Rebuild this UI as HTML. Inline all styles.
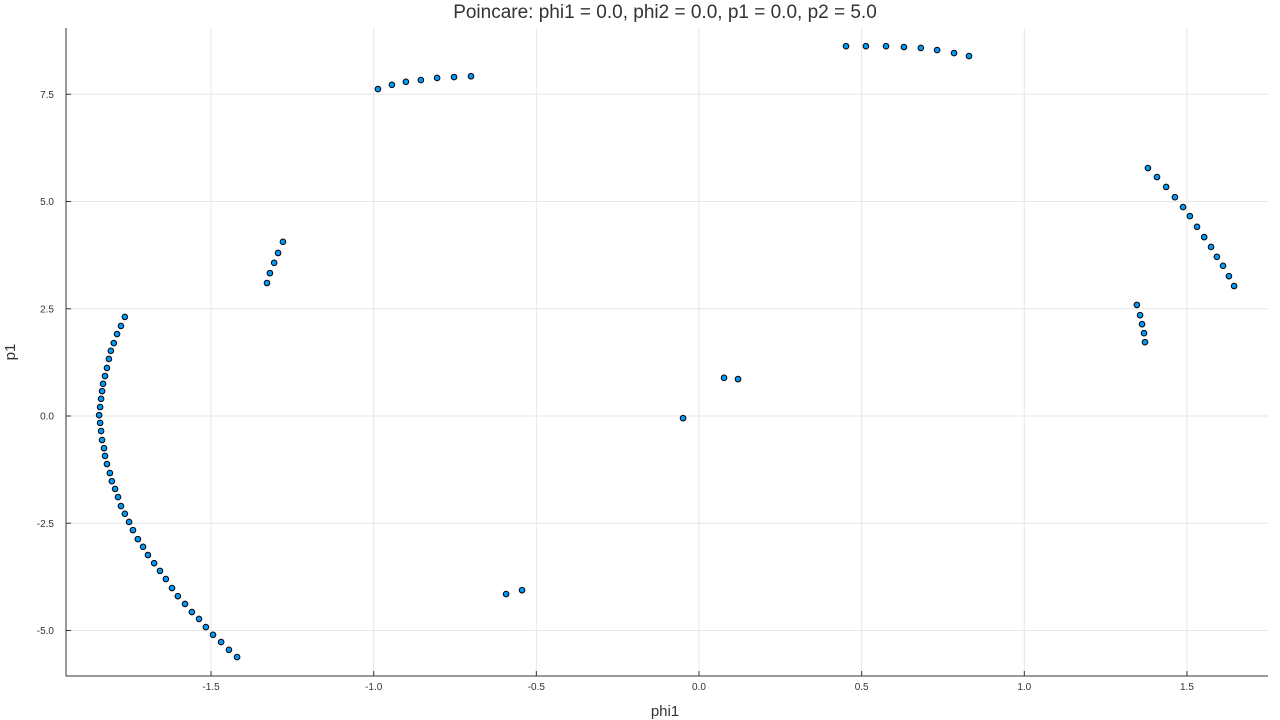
<!DOCTYPE html>
<html><head><meta charset="utf-8"><style>
body{margin:0;background:#fff;}
svg{display:block;font-family:"Liberation Sans",sans-serif;}
</style></head><body>
<svg id="chart" width="1280" height="720">
<text x="665" y="18" text-anchor="middle" font-size="19" fill="#333">Poincare: phi1 = 0.0, phi2 = 0.0, p1 = 0.0, p2 = 5.0</text>
<g id="grid"></g>
<g id="axes"></g>
<g id="points"></g>
<text x="665" y="716" text-anchor="middle" font-size="15" fill="#333">phi1</text>
<text x="15" y="352" text-anchor="middle" font-size="15" fill="#333" transform="rotate(-90 15 352)">p1</text>
</svg>
<script>
const xTicks=[-1.5,-1.0,-0.5,0.0,0.5,1.0,1.5];
const xTickLabels=["-1.5","-1.0","-0.5","0.0","0.5","1.0","1.5"];
const yTicks=[0.75,0.5,0.25,0,-0.25,-0.5];
const yTickLabels=["7.5","5.0","2.5","0.0","-2.5","-5.0"];
const phi1=[-1.765,-1.777,-1.789,-1.799,-1.808,-1.814,-1.820,-1.826,-1.832,-1.835,-1.838,-1.841,
-1.844,-1.841,-1.838,-1.835,-1.829,-1.826,-1.820,-1.811,-1.805,-1.795,-1.786,-1.777,-1.765,-1.752,-1.740,-1.725,-1.709,-1.694,-1.675,-1.657,-1.639,-1.620,-1.602,-1.580,-1.559,-1.537,-1.516,-1.494,-1.469,-1.445,-1.420,
-0.987,-0.944,-0.901,-0.855,-0.805,-0.753,-0.701,
0.452,0.513,0.575,0.630,0.682,0.732,0.784,0.830,
-1.328,-1.319,-1.306,-1.294,-1.279,
-0.049,0.077,0.120,-0.593,-0.544,
1.380,1.408,1.436,1.463,1.488,1.509,1.531,1.553,1.574,1.592,1.611,1.629,1.645,
1.346,1.356,1.362,1.368,1.371];
const p1=[0.231,0.210,0.191,0.170,0.152,0.133,0.112,0.093,0.075,0.058,0.040,0.021,
0.002,-0.016,-0.035,-0.056,-0.075,-0.093,-0.112,-0.133,-0.152,-0.170,-0.189,-0.210,-0.228,-0.247,-0.266,-0.287,-0.305,-0.324,-0.343,-0.361,-0.380,-0.401,-0.420,-0.438,-0.457,-0.473,-0.492,-0.510,-0.527,-0.545,-0.562,
0.762,0.772,0.779,0.783,0.788,0.790,0.792,
0.862,0.862,0.862,0.860,0.858,0.853,0.846,0.839,
0.310,0.333,0.357,0.380,0.406,
-0.005,0.089,0.086,-0.415,-0.406,
0.578,0.557,0.534,0.510,0.487,0.466,0.441,0.417,0.394,0.371,0.350,0.326,0.303,
0.259,0.235,0.214,0.193,0.172];
const L=66,R=1268,T=28,B=676;
const X=v=>699+(v)*325.3;
const Y=v=>416-v*429;
const ns="http://www.w3.org/2000/svg";
const grid=document.getElementById('grid'),axes=document.getElementById('axes'),pts=document.getElementById('points');
function mk(tag,attrs,parent){const e=document.createElementNS(ns,tag);for(const k in attrs)e.setAttribute(k,attrs[k]);parent.appendChild(e);return e;}
xTicks.forEach((t,i)=>{const x=X(t);
const g=mk('line',{x1:x,x2:x,y1:T,y2:B,stroke:'#e6e6e6','stroke-width':1},grid);


const tk=mk('line',{x1:x,x2:x,y1:B,y2:B-5,stroke:'#333'},axes);


const tx=mk('text',{x:x,y:B+14,'text-anchor':'middle','font-size':10,fill:'#333'},axes);tx.textContent=xTickLabels[i];

});
yTicks.forEach((t,i)=>{const y=Y(t);
const g=mk('line',{x1:L,x2:R,y1:y,y2:y,stroke:'#e6e6e6','stroke-width':1},grid);


const tk=mk('line',{x1:L,x2:L+5,y1:y,y2:y,stroke:'#333'},axes);


const tx=mk('text',{x:L-12,y:y+3.5,'text-anchor':'end','font-size':10,fill:'#333'},axes);tx.textContent=yTickLabels[i];

});
const ax=mk('path',{d:`M${L},${T} L${L},${B} L${R},${B}`,stroke:'#333',fill:'none','stroke-width':1},axes);


phi1.forEach((v,i)=>{const c=mk('circle',{cx:X(v),cy:Y(p1[i]),r:2.8,fill:'#009af9',stroke:'#000','stroke-width':1},pts);

});
</script>
</body></html>
